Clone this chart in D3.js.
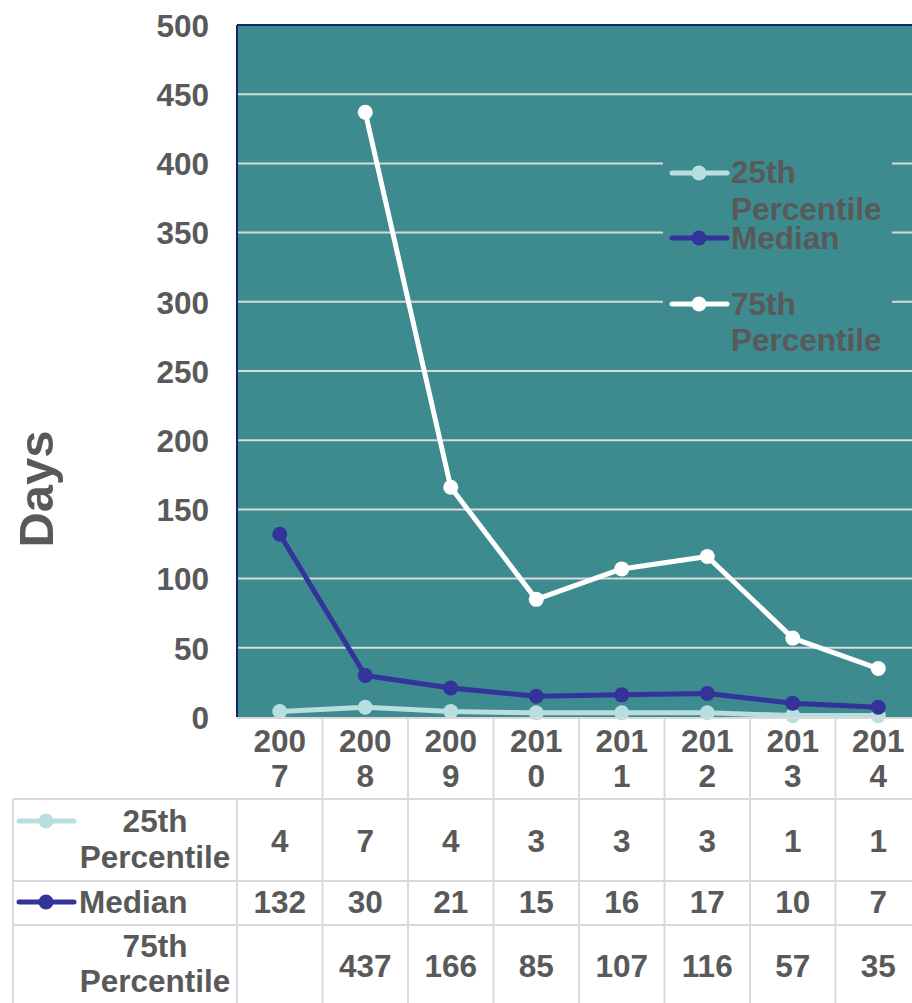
<!DOCTYPE html>
<html>
<head>
<meta charset="utf-8">
<script src="https://cdn.jsdelivr.net/npm/d3@7"></script>
<style>
  html, body { margin: 0; padding: 0; background: #fff; }
  svg { display: block; font-family: "Liberation Sans", Arial, sans-serif; font-weight: bold; }
</style>
</head>
<body>
<svg id="chart" width="912" height="1003"></svg>
<script>
// Days per year, by percentile
const years = ["2007", "2008", "2009", "2010", "2011", "2012", "2013", "2014"];
const p25 = [4, 7, 4, 3, 3, 3, 1, 1];
const median = [132, 30, 21, 15, 16, 17, 10, 7];
const p75 = [null, 437, 166, 85, 107, 116, 57, 35];
const yTicks = [0, 50, 100, 150, 200, 250, 300, 350, 400, 450, 500];

const series = [
  { name: ["25th", "Percentile"], values: p25, color: "#b7dfe0" },
  { name: ["Median"], values: median, color: "#333399" },
  { name: ["75th", "Percentile"], values: p75, color: "#ffffff" }
];

const textColor = "#595959";
const gridColor = "#d9d9d9";
const fontSize = 31.5;

const svg = d3.select("#chart");

const plot = { left: 237, top: 25, right: 921, bottom: 717 };

const x = d3.scaleBand().domain(years).range([plot.left, plot.right]);
const y = d3.scaleLinear().domain([0, 500]).range([plot.bottom, plot.top]);

// plot background
svg.append("rect")
  .attr("x", plot.left).attr("y", plot.top)
  .attr("width", plot.right - plot.left).attr("height", plot.bottom - plot.top)
  .attr("fill", "#3d8a8f");

// horizontal gridlines
svg.append("g")
  .selectAll("line")
  .data(yTicks.filter(t => t > 0 && t < 500))
  .join("line")
  .attr("x1", plot.left).attr("x2", plot.right)
  .attr("y1", d => y(d)).attr("y2", d => y(d))
  .attr("stroke", gridColor).attr("stroke-width", 2);

// frame: top border and left axis line
svg.append("line")
  .attr("x1", plot.left).attr("x2", plot.right)
  .attr("y1", plot.top).attr("y2", plot.top)
  .attr("stroke", "#15246b").attr("stroke-width", 2);
svg.append("line")
  .attr("x1", plot.left).attr("x2", plot.left)
  .attr("y1", plot.top).attr("y2", plot.bottom)
  .attr("stroke", "#15246b").attr("stroke-width", 2);

// y axis tick labels
const yAxis = d3.axisLeft(y).tickValues(yTicks).tickSize(0).tickPadding(0);
const yg = svg.append("g")
  .attr("transform", `translate(${209},0)`)
  .call(yAxis);
yg.select(".domain").remove();
yg.selectAll("text")
  .attr("fill", textColor)
  .attr("font-size", fontSize)
  .attr("font-weight", "bold")
  .attr("font-family", "'Liberation Sans', Arial, sans-serif")
  .attr("dy", "0.36em");

// y axis title
svg.append("text")
  .attr("transform", `translate(53,${489}) rotate(-90)`)
  .attr("text-anchor", "middle")
  .attr("fill", textColor)
  .attr("font-size", 49)
  .text("Days");

// legend inside the plot (masks the gridlines behind it)
const legend = { x: 663, y: 150, w: 229, h: 210 };
svg.append("rect")
  .attr("x", legend.x).attr("y", legend.y)
  .attr("width", legend.w).attr("height", legend.h)
  .attr("fill", "#3d8a8f");

const legendRows = [
  { key: 173, lines: [183, 220] },
  { key: 238, lines: [249] },
  { key: 304, lines: [315, 351] }
];
series.forEach((s, i) => {
  const r = legendRows[i];
  const g = svg.append("g");
  g.append("line")
    .attr("x1", 672).attr("x2", 727)
    .attr("y1", r.key).attr("y2", r.key)
    .attr("stroke", s.color).attr("stroke-width", 5).attr("stroke-linecap", "round");
  g.append("circle")
    .attr("cx", 699).attr("cy", r.key).attr("r", 7.5)
    .attr("fill", s.color);
  s.name.forEach((t, j) => {
    g.append("text")
      .attr("x", 731).attr("y", r.lines[j])
      .attr("fill", textColor)
      .attr("font-size", fontSize)
      .text(t);
  });
});

// series lines and markers
const cx = d => x(d) + x.bandwidth() / 2;
const line = d3.line()
  .defined(d => d.v !== null)
  .x(d => cx(d.year))
  .y(d => y(d.v));

series.forEach(s => {
  const pts = years.map((yr, i) => ({ year: yr, v: s.values[i] }));
  svg.append("path")
    .datum(pts)
    .attr("d", line)
    .attr("fill", "none")
    .attr("stroke", s.color)
    .attr("stroke-width", 5)
    .attr("stroke-linejoin", "round");
  svg.append("g")
    .selectAll("circle")
    .data(pts.filter(d => d.v !== null))
    .join("circle")
    .attr("cx", d => cx(d.year))
    .attr("cy", d => y(d.v))
    .attr("r", 7.5)
    .attr("fill", s.color);
});

// data table under the plot
const table = {
  left: 13,
  rows: [
    { valueBase: 852, key: 821, labelLines: [832, 868], labelAnchor: "middle", labelX: 155 },
    { valueBase: 913, key: 902, labelLines: [913], labelAnchor: "start", labelX: 79 },
    { valueBase: 977, key: null, labelLines: [957, 992], labelAnchor: "middle", labelX: 155 }
  ]
};

const tg = svg.append("g");
// horizontal rules
tg.append("line")
  .attr("x1", plot.left).attr("x2", plot.right)
  .attr("y1", plot.bottom + 1).attr("y2", plot.bottom + 1)
  .attr("stroke", gridColor).attr("stroke-width", 2);
[799, 881, 925].forEach(yy => {
  tg.append("line")
    .attr("x1", table.left).attr("x2", plot.right)
    .attr("y1", yy).attr("y2", yy)
    .attr("stroke", gridColor).attr("stroke-width", 2);
});
// vertical rules
tg.append("line")
  .attr("x1", table.left).attr("x2", table.left)
  .attr("y1", 799).attr("y2", 1010)
  .attr("stroke", gridColor).attr("stroke-width", 2);
years.forEach((yr, i) => {
  const xx = x(yr);
  tg.append("line")
    .attr("x1", xx).attr("x2", xx)
    .attr("y1", i === 0 ? 799 : plot.bottom).attr("y2", 1010)
    .attr("stroke", gridColor).attr("stroke-width", 2);
});

// year header labels, wrapped as in a narrow cell
years.forEach(yr => {
  const t = tg.append("text")
    .attr("text-anchor", "middle")
    .attr("fill", textColor)
    .attr("font-size", fontSize);
  t.append("tspan").attr("x", cx(yr)).attr("y", 752).text(yr.slice(0, 3));
  t.append("tspan").attr("x", cx(yr)).attr("y", 787).text(yr.slice(3));
});

// row labels with legend keys, and values
series.forEach((s, i) => {
  const r = table.rows[i];
  if (r.key !== null) {
    tg.append("line")
      .attr("x1", 19).attr("x2", 74)
      .attr("y1", r.key).attr("y2", r.key)
      .attr("stroke", s.color).attr("stroke-width", 5).attr("stroke-linecap", "round");
    tg.append("circle")
      .attr("cx", 46).attr("cy", r.key).attr("r", 7.5)
      .attr("fill", s.color);
  }
  s.name.forEach((t, j) => {
    tg.append("text")
      .attr("x", r.labelX).attr("y", r.labelLines[j])
      .attr("text-anchor", r.labelAnchor)
      .attr("fill", textColor)
      .attr("font-size", fontSize)
      .text(t);
  });
  years.forEach((yr, k) => {
    const v = s.values[k];
    if (v === null) return;
    tg.append("text")
      .attr("x", cx(yr)).attr("y", r.valueBase)
      .attr("text-anchor", "middle")
      .attr("fill", textColor)
      .attr("font-size", fontSize)
      .text(v);
  });
});
</script>
</body>
</html>
